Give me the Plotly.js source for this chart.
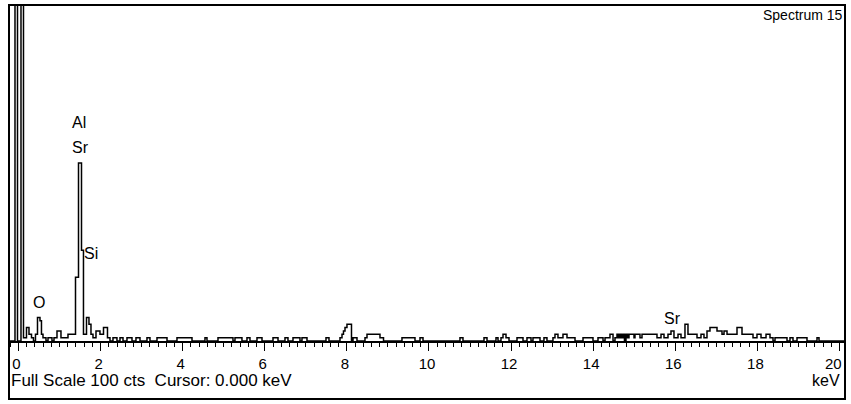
<!DOCTYPE html>
<html>
<head>
<meta charset="utf-8">
<script src="https://cdn.plot.ly/plotly-3.0.1.min.js"></script>
<style>html,body{margin:0;padding:0;background:#fff;}#chart{width:851px;height:404px;}</style>
</head>
<body>
<div id="chart"></div>
<script>
// Spectrum steps: energy (keV) where each step starts, counts held until next step
var energyKeV = [-0.23,-0.085,-0.024,0.061,0.122,0.195,0.256,0.317,0.365,0.414,0.463,0.524,0.560,0.597,0.670,0.719,0.816,0.865,0.938,1.035,1.206,
  1.389,1.462,1.535,1.583,1.657,1.717,1.766,1.815,1.888,1.985,2.071,2.168,2.229,2.302,2.399,2.473,2.546,2.643,2.765,2.862,2.960,3.130,3.203,
  3.374,3.618,3.861,4.227,4.543,4.592,4.860,5.225,5.274,5.444,5.566,5.639,5.810,5.932,6.200,6.322,6.492,6.565,6.687,6.857,6.906,7.028,
  7.491,7.564,7.832,7.881,7.917,7.954,8.002,8.112,8.149,8.246,8.441,8.490,8.806,8.892,9.342,9.659,9.781,9.854,10.755,10.828,11.340,11.413,
  11.632,11.681,11.754,11.803,11.876,11.949,12.144,12.290,12.387,12.485,12.533,12.704,12.801,12.874,13.020,13.069,13.142,13.264,13.362,13.557,
  13.752,13.995,14.117,14.239,14.288,14.409,14.483,14.531,14.580,14.616,14.653,14.689,14.726,14.762,14.799,14.836,14.872,14.994,15.018,15.140,
  15.189,15.554,15.652,15.725,15.822,15.895,15.968,16.066,16.139,16.236,16.309,16.529,16.626,16.699,16.772,16.845,17.016,17.138,17.187,17.260,
  17.503,17.625,17.893,17.990,18.088,18.210,18.307,18.380,18.429,18.721,18.794,18.867,18.965,19.208,19.452,19.501,20.134];
var counts = [0,300,0,300,1,4,2,1,0,2,7,6,2,1,0,1,0,1,3,1,2,
  19,53,27,2,7,5,2,1,3,2,4,1,0,1,0,1,0,1,0,1,0,1,0,
  1,0,1,0,1,0,1,0,1,0,1,0,1,0,1,0,1,0,1,0,1,0,
  1,0,1,2,3,4,5,0,1,0,1,2,1,0,1,0,1,0,1,0,1,0,
  1,0,1,2,1,0,1,0,1,0,1,0,1,0,1,2,1,2,1,0,
  1,0,1,0,1,2,0,1,2,1,2,1,2,0,2,1,2,1,2,1,
  2,1,2,1,2,3,1,2,1,5,2,1,2,1,3,4,3,2,3,2,
  4,2,1,2,1,2,1,0,1,0,1,0,1,0,1,0,0];

// Element labels
var labelText = ["Al", "Sr", "Si", "O", "Sr"];
var labelKeV = [1.48, 1.50, 1.76, 0.51, 15.92];
var labelCounts = [65, 57.5, 26, 11.6, 6.8];

var tickVals = [0,2,4,6,8,10,12,14,16,18,20];
var tickText = ["0","2","4","6","8","10","12","14","16","18","20\u00A0\u00A0"];

var fontFam = "Liberation Sans, Arial, sans-serif";

var trace = {
  x: energyKeV, y: counts, type: "scatter", mode: "lines",
  line: {color: "#000", width: 1.5, shape: "hv"},
  hoverinfo: "skip"
};

var annotations = labelText.map(function(t, i){
  return {text: t, x: labelKeV[i], y: labelCounts[i], xref: "x", yref: "y",
    showarrow: false, xanchor: "center", yanchor: "middle",
    font: {family: fontFam, size: 16, color: "#000"}};
});
annotations.push({text: "Spectrum 15", xref: "paper", yref: "paper", x: 0.9995, y: 0.970,
  xanchor: "right", yanchor: "middle", showarrow: false, font: {family: fontFam, size: 14, color: "#000"}});
annotations.push({text: "Full Scale 100 cts \u00A0Cursor: 0.000 keV", xref: "paper", yref: "paper", x: 0.0, y: -0.119,
  xanchor: "left", yanchor: "middle", showarrow: false, font: {family: fontFam, size: 17, color: "#000"}});
annotations.push({text: "keV", xref: "paper", yref: "paper", x: 0.997, y: -0.119,
  xanchor: "right", yanchor: "middle", showarrow: false, font: {family: fontFam, size: 16, color: "#000"}});

var layout = {
  width: 851, height: 404,
  margin: {l: 9, r: 6, t: 5, b: 63, pad: 0},
  paper_bgcolor: "#fff", plot_bgcolor: "#fff",
  showlegend: false,
  xaxis: {
    range: [-0.231, 20.134], showgrid: false, zeroline: false,
    showline: true, linecolor: "#000", linewidth: 2,
    ticks: "outside", ticklen: 8, tickwidth: 1, tickcolor: "#000",
    tickmode: "array", tickvals: tickVals, ticktext: tickText,
    tickfont: {family: fontFam, size: 15, color: "#000"},
    ticklabelshift: -2,
    minor: {dtick: 0.2, tick0: 0, ticks: "outside", ticklen: 4, tickwidth: 1, tickcolor: "#000", showgrid: false},
    fixedrange: true
  },
  yaxis: {range: [0, 100], visible: false, fixedrange: true},
  shapes: [{type: "rect", xref: "paper", yref: "paper", x0: 0, x1: 1, y0: -0.1726, y1: 1,
    line: {color: "#000", width: 2}, fillcolor: "rgba(0,0,0,0)"}],
  annotations: annotations
};

Plotly.newPlot("chart", [trace], layout, {displayModeBar: false, staticPlot: true});
</script>
</body>
</html>
